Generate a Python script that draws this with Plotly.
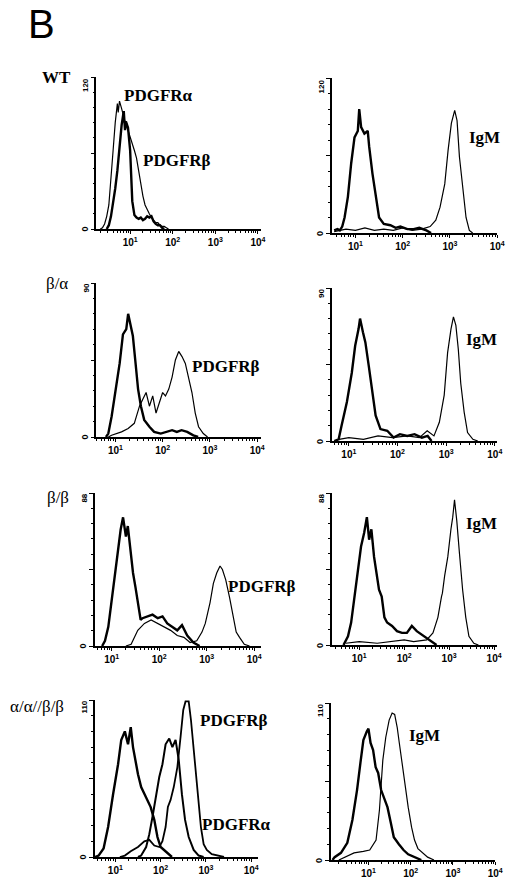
import math
import plotly.graph_objects as go

W, H = 520, 882

# ---------------- data (x = log10 fluorescence, y = cell counts) ----------------
# Row 1: WT
wt_pdgfra_x = [0.30,0.35,0.40,0.45,0.50,0.55,0.60,0.65,0.70,0.72,0.75,0.80,0.85,0.90,0.95,1.00,1.05,1.10,1.15,1.20,1.25,1.30,1.35,1.40,1.45,1.50,1.55,1.60,1.65,1.70,1.75,1.80,1.85,1.90]
wt_pdgfra_y = [0,1,4,10,19,38,62,84,99,92,101,95,88,82,78,73,68,62,56,46,34,26,19,15,12,9,7,5,5,3,2,2,1,0]
wt_pdgfrb_x = [0.45,0.50,0.55,0.60,0.65,0.70,0.75,0.80,0.85,0.88,0.90,0.95,1.00,1.05,1.10,1.15,1.20,1.25,1.30,1.35,1.40,1.45,1.50,1.55,1.60,1.65,1.70,1.75,1.80]
wt_pdgfrb_y = [0,3,10,20,32,46,65,82,93,78,85,80,62,22,11,9,8,9,7,8,10,9,10,6,4,3,3,1,0]
wt_ctrl_x = [0.55,0.62,0.67,0.72,0.77,0.84,0.91,0.98,1.05,1.08,1.12,1.19,1.26,1.29,1.36,1.43,1.50,1.60,1.74,1.85,1.95,2.10,2.23,2.35,2.50,2.60]
wt_ctrl_y = [2,3,2,5,12,28,54,74,79,96,82,77,79,67,46,28,12,7,6,4,5,3,3,4,2,0]
wt_igm_x = [0.55,0.80,1.00,1.20,1.40,1.60,1.80,2.00,2.20,2.40,2.58,2.70,2.79,2.89,2.96,3.03,3.10,3.15,3.20,3.27,3.34,3.41,3.48]
wt_igm_y = [1,3,2,4,2,3,2,4,2,3,5,10,20,38,64,85,95,87,59,33,12,2,0]

# Row 2: beta/alpha
ba_ctrl_x = [0.80,0.85,0.92,0.99,1.09,1.16,1.23,1.27,1.32,1.37,1.42,1.48,1.54,1.61,1.72,1.82,1.96,2.10,2.20,2.30,2.40,2.52,2.65,2.75]
ba_ctrl_y = [0,2,12,24,43,60,63,72,65,59,45,28,18,10,6,3,2,3,4,3,4,3,1,0]
ba_pdgfrb_x = [0.85,0.92,1.13,1.27,1.40,1.51,1.58,1.65,1.72,1.79,1.86,1.93,2.00,2.06,2.13,2.20,2.27,2.34,2.41,2.48,2.55,2.62,2.69,2.76,2.86,2.95]
ba_pdgfrb_y = [0,1,3,5,8,18,22,26,18,24,14,20,26,24,28,35,45,50,47,43,35,26,14,6,2,0]
ba_ctrl2_x = [0.70,0.79,0.85,0.96,1.06,1.13,1.20,1.23,1.29,1.34,1.41,1.48,1.55,1.65,1.79,1.92,2.05,2.20,2.35,2.50,2.62,2.70]
ba_ctrl2_y = [0,1,9,23,40,56,66,72,64,58,44,29,15,7,6,2,4,3,4,2,3,0]
ba_igm_x = [0.80,1.00,1.30,1.60,1.90,2.20,2.45,2.61,2.75,2.86,2.96,3.03,3.10,3.15,3.20,3.25,3.30,3.37,3.44,3.55,3.65]
ba_igm_y = [1,2,1,3,2,3,2,6,3,11,27,52,66,73,68,54,34,17,5,1,0]

# Row 3: beta/beta
bb_ctrl_x = [0.80,0.86,0.93,1.00,1.07,1.14,1.19,1.24,1.30,1.34,1.40,1.45,1.50,1.55,1.61,1.65,1.76,1.86,1.97,2.07,2.17,2.28,2.38,2.48,2.59,2.72,2.85]
bb_ctrl_y = [0,3,11,26,44,57,67,74,63,69,53,42,34,25,15,16,17,18,16,17,13,11,9,12,6,2,0]
bb_pdgfrb_x = [1.30,1.41,1.55,1.69,1.83,1.97,2.10,2.24,2.38,2.52,2.65,2.79,2.90,2.97,3.07,3.14,3.21,3.28,3.33,3.40,3.48,3.55,3.62,3.69,3.79,3.90]
bb_pdgfrb_y = [0,1,9,13,15,13,11,9,6,5,2,3,8,13,25,36,42,46,44,38,28,17,8,5,1,0]
bb_ctrl2_x = [0.65,0.75,0.82,0.89,0.97,1.04,1.11,1.17,1.22,1.27,1.33,1.39,1.44,1.50,1.56,1.62,1.73,1.84,1.95,2.06,2.17,2.28,2.39,2.50,2.61,2.72]
bb_ctrl2_y = [0,5,13,28,43,57,65,74,61,67,51,40,32,28,16,13,11,8,7,7,11,8,6,4,2,0]
bb_igm_x = [0.70,1.00,1.40,1.77,2.00,2.21,2.50,2.64,2.75,2.83,2.85,2.90,2.97,3.04,3.08,3.12,3.17,3.23,3.30,3.37,3.44,3.55,3.65]
bb_igm_y = [1,2,1,2,3,2,3,7,16,28,30,40,51,67,74,84,72,53,32,16,5,1,0]

# Row 4: alpha/alpha//beta/beta
aabb_ctrl_x = [0.55,0.63,0.74,0.84,0.95,1.06,1.13,1.21,1.28,1.34,1.39,1.44,1.50,1.57,1.64,1.71,1.78,1.86,1.93,2.00,2.11,2.25]
aabb_ctrl_y = [0,1,6,21,44,65,82,88,79,91,77,68,58,49,44,40,35,26,14,7,4,0]
aabb_pdgfra_x = [1.50,1.57,1.68,1.75,1.82,1.89,1.97,2.04,2.11,2.19,2.26,2.33,2.40,2.47,2.54,2.62,2.73,2.84,2.95]
aabb_pdgfra_y = [0,1,7,16,28,42,56,65,79,83,77,82,68,44,26,14,5,1,0]
aabb_pdgfrb_x = [1.10,1.21,1.34,1.50,1.64,1.75,1.86,1.97,2.04,2.11,2.16,2.22,2.29,2.37,2.44,2.50,2.55,2.62,2.67,2.73,2.79,2.84,2.89,2.95,3.02,3.13,3.27,3.40]
aabb_pdgfrb_y = [0,1,4,7,11,12,8,7,11,21,35,40,49,63,84,103,109,109,96,75,56,37,21,9,5,2,1,0]
aabb_ctrl2_x = [0.15,0.20,0.35,0.50,0.62,0.73,0.81,0.88,0.96,1.00,1.05,1.11,1.17,1.23,1.30,1.38,1.45,1.53,1.60,1.72,1.83,1.94,2.09,2.25]
aabb_ctrl2_y = [0,2,5,12,28,49,68,84,90,92,82,77,65,61,49,42,37,26,16,11,7,4,2,0]
aabb_igm_x = [0.30,0.46,0.66,0.88,1.03,1.18,1.26,1.34,1.41,1.49,1.56,1.62,1.68,1.73,1.79,1.87,1.94,2.02,2.09,2.17,2.28,2.40,2.55]
aabb_igm_y = [0,2,5,6,7,14,35,70,86,98,103,102,93,82,68,51,37,23,14,8,5,2,0]

x_tick_vals = [1, 2, 3, 4]
x_tick_text = ["10<sup>1</sup>", "10<sup>2</sup>", "10<sup>3</sup>", "10<sup>4</sup>"]
row_labels = ["WT", "β/α", "β/β", "α/α//β/β"]
y_max_labels = [120, 90, 88, 110]

THICK, THIN = 2.4, 1.2

# panel: series, pixel box (left, right, top, bottom), x range, y max, labels
panels = [
    dict(series=[(wt_pdgfra_x, wt_pdgfra_y, THIN), (wt_pdgfrb_x, wt_pdgfrb_y, THICK)],
         box=(98, 265, 77, 229), xr=(0.21, 4.07), ymax=y_max_labels[0],
         labels=[("PDGFRα", 161, 95), ("PDGFRβ", 180, 160)]),
    dict(series=[(wt_ctrl_x, wt_ctrl_y, THICK), (wt_igm_x, wt_igm_y, THIN)],
         box=(337, 505, 78, 233), xr=(0.5, 4.0), ymax=y_max_labels[0],
         labels=[("IgM", 492, 137)]),
    dict(series=[(ba_ctrl_x, ba_ctrl_y, THICK), (ba_pdgfrb_x, ba_pdgfrb_y, THIN)],
         box=(98, 265, 283, 437), xr=(0.6, 4.08), ymax=y_max_labels[1],
         labels=[("PDGFRβ", 230, 366)]),
    dict(series=[(ba_ctrl2_x, ba_ctrl2_y, THICK), (ba_igm_x, ba_igm_y, THIN)],
         box=(337, 505, 288, 441), xr=(0.65, 4.05), ymax=y_max_labels[1],
         labels=[("IgM", 489, 339)]),
    dict(series=[(bb_ctrl_x, bb_ctrl_y, THICK), (bb_pdgfrb_x, bb_pdgfrb_y, THIN)],
         box=(96, 265, 493, 646), xr=(0.64, 4.14), ymax=y_max_labels[2],
         labels=[("PDGFRβ", 266, 586)]),
    dict(series=[(bb_ctrl2_x, bb_ctrl2_y, THICK), (bb_igm_x, bb_igm_y, THIN)],
         box=(337, 505, 493, 645), xr=(0.39, 4.07), ymax=y_max_labels[2],
         labels=[("IgM", 489, 523)]),
    dict(series=[(aabb_ctrl_x, aabb_ctrl_y, THICK), (aabb_pdgfra_x, aabb_pdgfra_y, 2.0),
                 (aabb_pdgfrb_x, aabb_pdgfrb_y, 1.8)],
         box=(96, 262, 700, 857), xr=(0.54, 4.15), ymax=y_max_labels[3],
         labels=[("PDGFRβ", 238, 720), ("PDGFRα", 240, 824)]),
    dict(series=[(aabb_ctrl2_x, aabb_ctrl2_y, THICK), (aabb_igm_x, aabb_igm_y, THIN)],
         box=(336, 503, 703, 860), xr=(0.11, 4.0), ymax=y_max_labels[3],
         labels=[("IgM", 431, 735)]),
]

row_label_pos = [(57, 78), (58, 283), (59, 497), (38, 706)]

fig = go.Figure()
annotations = []
serif = "Liberation Serif"
sans = "Liberation Sans"

def px_x(p):
    return p / W

def px_y(p):
    return 1 - p / H

for i, pnl in enumerate(panels):
    n = i + 1
    xa = "x" if n == 1 else f"x{n}"
    ya = "y" if n == 1 else f"y{n}"
    for sx, sy, lw in pnl["series"]:
        fig.add_trace(go.Scatter(x=sx, y=sy, mode="lines", xaxis=xa, yaxis=ya,
                                 line=dict(color="black", width=lw), hoverinfo="skip",
                                 showlegend=False))
    l, r, t, b = pnl["box"]
    lo, hi = pnl["xr"]
    minor_x = [d + math.log10(k) for d in range(0, 4) for k in range(2, 10)
               if lo < d + math.log10(k) < hi]
    ymax = pnl["ymax"]
    fig.layout[f"xaxis{'' if n == 1 else n}"] = dict(
        domain=[px_x(l), px_x(r)], anchor=ya, range=[lo, hi],
        showline=True, linecolor="black", linewidth=1.6, showgrid=False, zeroline=False,
        ticks="outside", ticklen=3, tickwidth=1.3, tickcolor="black",
        tickvals=x_tick_vals, ticktext=x_tick_text,
        tickfont=dict(family=sans, size=10, color="black", weight="bold"),
        minor=dict(tickvals=minor_x, ticks="outside", ticklen=2, tickwidth=1, tickcolor="black"),
        fixedrange=True,
    )
    fig.layout[f"yaxis{'' if n == 1 else n}"] = dict(
        domain=[px_y(b), px_y(t)], anchor=xa, range=[0, ymax],
        showline=True, linecolor="black", linewidth=1.6, showgrid=False, zeroline=False,
        ticks="outside", ticklen=4, tickwidth=1.3, tickcolor="black",
        tickvals=[0, ymax / 2, ymax], showticklabels=False,
        minor=dict(dtick=ymax / 10, ticks="outside", ticklen=2, tickwidth=1, tickcolor="black"),
        fixedrange=True,
    )
    # y-axis end labels (rotated)
    annotations.append(dict(text=str(ymax), x=px_x(l - 4), y=px_y(t - 1), xref="paper", yref="paper",
                            xanchor="right", yanchor="top", textangle=-90, showarrow=False,
                            font=dict(family=sans, size=8, color="black", weight="bold")))
    annotations.append(dict(text="0", x=px_x(l - 5), y=px_y(b), xref="paper", yref="paper",
                            xanchor="right", yanchor="middle", textangle=-90, showarrow=False,
                            font=dict(family=sans, size=9, color="black", weight="bold")))
    for txt, cx, cy in pnl["labels"]:
        annotations.append(dict(text=txt, x=px_x(cx), y=px_y(cy), xref="paper", yref="paper",
                                xanchor="center", yanchor="middle", showarrow=False,
                                font=dict(family=serif, size=17, color="black", weight="bold")))

for txt, (cx, cy) in zip(row_labels, row_label_pos):
    annotations.append(dict(text=txt, x=px_x(cx), y=px_y(cy), xref="paper", yref="paper",
                            xanchor="center", yanchor="middle", showarrow=False,
                            font=dict(family=serif, size=17, color="black",
                                      weight="bold" if txt == "WT" else "normal")))

annotations.append(dict(text="B", x=px_x(42), y=1, xref="paper", yref="paper",
                        xanchor="center", yanchor="top", showarrow=False,
                        font=dict(family=sans, size=40, color="black")))

fig.update_layout(width=W, height=H, margin=dict(l=0, r=0, t=0, b=0),
                  paper_bgcolor="white", plot_bgcolor="white",
                  annotations=annotations, showlegend=False, hovermode=False)

fig.write_html("out.html", config={"displayModeBar": False},
               post_script="document.body.style.margin='0';document.body.style.padding='0';"
                           "document.body.style.overflow='hidden';")
